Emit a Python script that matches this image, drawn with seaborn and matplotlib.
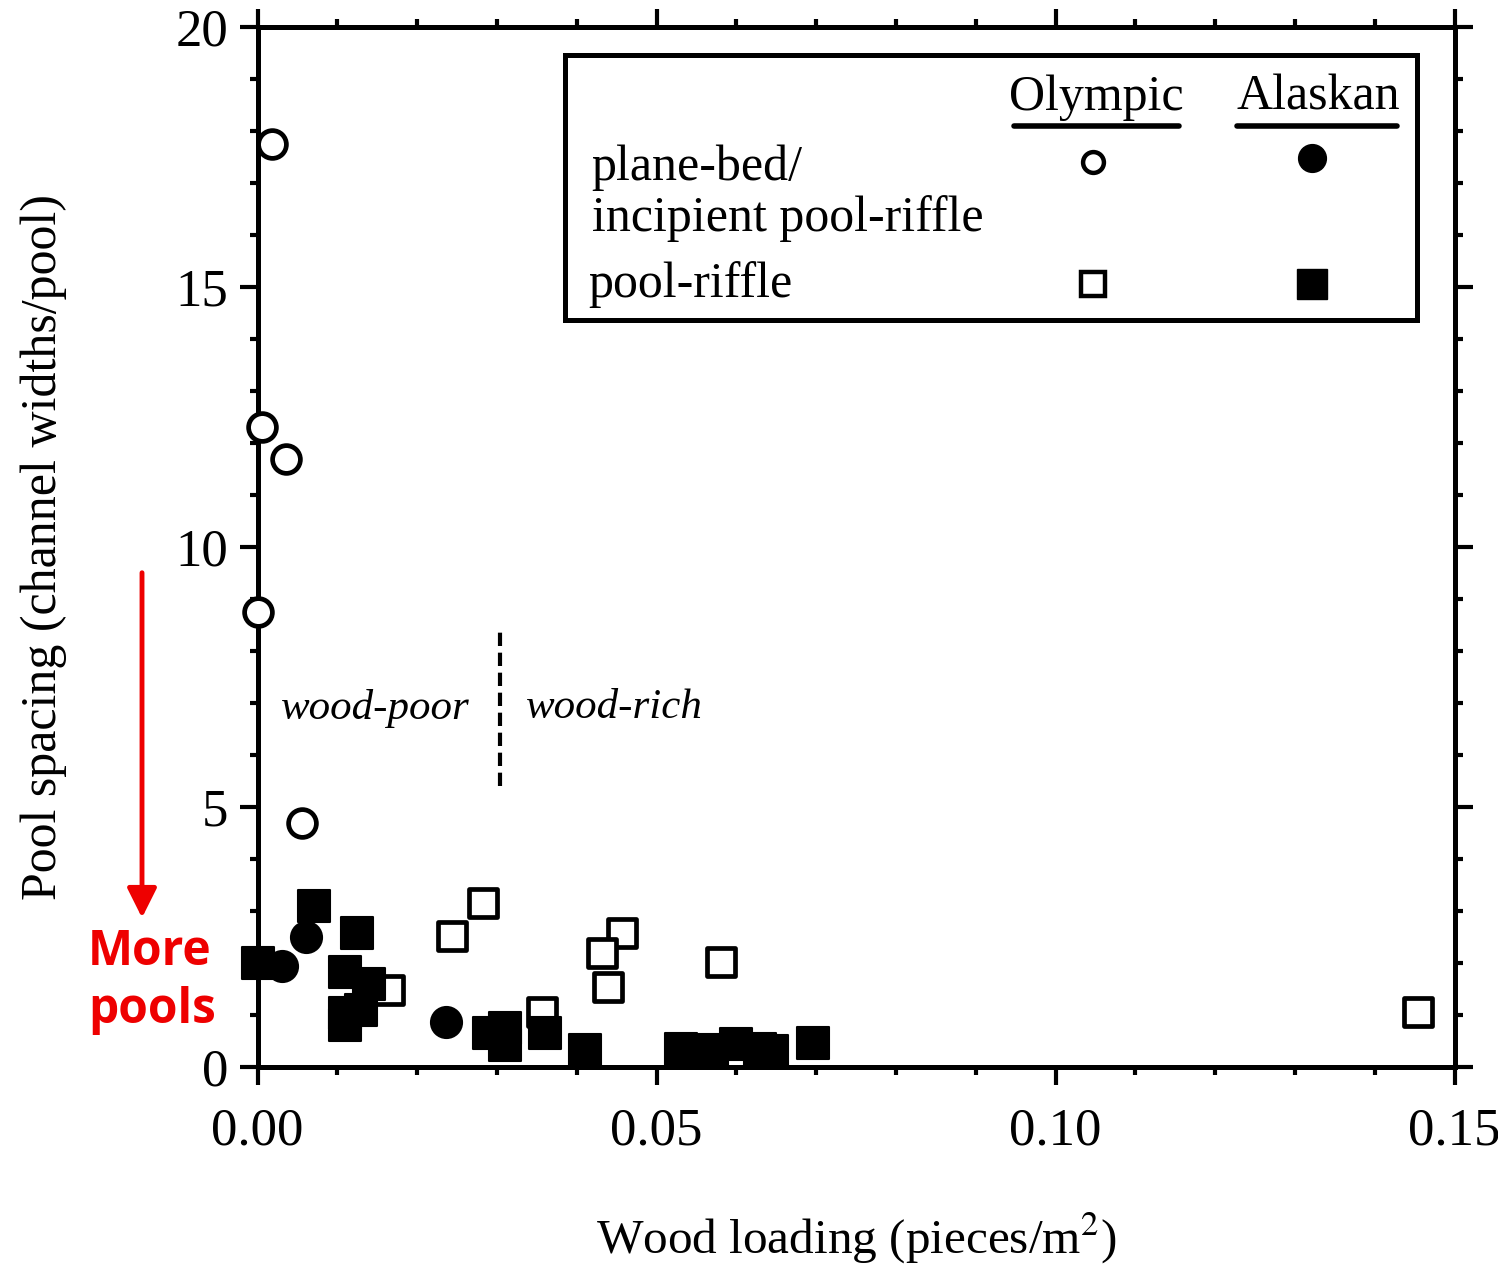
import matplotlib
matplotlib.use("Agg")
import matplotlib.pyplot as plt
import seaborn as sns
import pandas as pd
from matplotlib.ticker import MultipleLocator, FixedLocator
from matplotlib.lines import Line2D
from matplotlib.patches import Rectangle, FancyArrowPatch

# ---------------- data ----------------
olympic_planebed_x = [0.0018, 0.0006, 0.0035, 0.0001, 0.0055]
olympic_planebed_y = [17.75, 12.3, 11.7, 8.75, 4.7]

alaskan_planebed_x = [0.0060, 0.0030, 0.0236]
alaskan_planebed_y = [2.50, 1.95, 0.87]

olympic_poolriffle_x = [0.0282, 0.0244, 0.0165, 0.0356, 0.0456, 0.0432, 0.0439, 0.0581, 0.1454]
olympic_poolriffle_y = [3.15, 2.52, 1.48, 1.06, 2.58, 2.19, 1.54, 2.02, 1.06]

alaskan_poolriffle_x = [0.0000, 0.0070, 0.0125, 0.0110, 0.0140, 0.0110, 0.0110, 0.0130,
                        0.0290, 0.0310, 0.0310, 0.0360, 0.0410,
                        0.0530, 0.0570, 0.0600, 0.0630, 0.0645, 0.0696]
alaskan_poolriffle_y = [2.00, 3.10, 2.58, 1.83, 1.60, 1.04, 0.80, 1.10,
                        0.65, 0.75, 0.42, 0.65, 0.33,
                        0.35, 0.33, 0.45, 0.35, 0.30, 0.46]

x_ticks = [0.00, 0.05, 0.10, 0.15]
x_tick_labels = ["0.00", "0.05", "0.10", "0.15"]
y_ticks = [0, 5, 10, 15, 20]
y_tick_labels = ["0", "5", "10", "15", "20"]

boundary_x = 0.0304
boundary_y = [5.4, 8.4]

# ---------------- style ----------------
sns.set_style("ticks")
plt.rcParams["font.family"] = ["Liberation Serif", "DejaVu Serif"]
plt.rcParams["mathtext.fontset"] = "stix"
plt.rcParams["text.color"] = "black"
plt.rcParams["axes.labelcolor"] = "black"
plt.rcParams["axes.edgecolor"] = "black"
plt.rcParams["xtick.color"] = "black"
plt.rcParams["ytick.color"] = "black"

fig = plt.figure(figsize=(14.98, 12.68), dpi=100)
ax = fig.add_axes([0.172, 0.1585, 0.799, 0.8202])

def df(x, y):
    return pd.DataFrame({"x": x, "y": y})

lw_edge = 3.4
sns.scatterplot(data=df(olympic_planebed_x, olympic_planebed_y), x="x", y="y", ax=ax,
                marker="o", s=400, facecolor="white", edgecolor="black",
                linewidth=lw_edge, zorder=3, clip_on=False)
sns.scatterplot(data=df(olympic_poolriffle_x, olympic_poolriffle_y), x="x", y="y", ax=ax,
                marker="s", s=390, facecolor="white", edgecolor="black",
                linewidth=lw_edge, zorder=3, clip_on=False)
sns.scatterplot(data=df(alaskan_planebed_x, alaskan_planebed_y), x="x", y="y", ax=ax,
                marker="o", s=500, facecolor="black", edgecolor="black",
                linewidth=1.5, zorder=4, clip_on=False)
sns.scatterplot(data=df(alaskan_poolriffle_x, alaskan_poolriffle_y), x="x", y="y", ax=ax,
                marker="s", s=540, facecolor="black", edgecolor="black",
                linewidth=1.5, zorder=4, clip_on=False)

ax.set_xlim(0, 0.15)
ax.set_ylim(0, 20)
ax.xaxis.set_major_locator(FixedLocator(x_ticks))
ax.set_xticklabels(x_tick_labels)
ax.xaxis.set_minor_locator(MultipleLocator(0.01))
ax.yaxis.set_major_locator(FixedLocator(y_ticks))
ax.set_yticklabels(y_tick_labels)
ax.yaxis.set_minor_locator(MultipleLocator(1))

for sp in ax.spines.values():
    sp.set_linewidth(3.6)
    sp.set_visible(True)
ax.tick_params(which="both", direction="out", top=True, right=True, width=3)
ax.tick_params(which="major", length=13, labelsize=38)
ax.tick_params(axis="x", which="major", pad=16)
ax.tick_params(axis="y", which="major", pad=8)
ax.tick_params(which="minor", length=6)

ax.set_xlabel("Wood loading (pieces/m$^{2}$)", fontsize=35.5, labelpad=40)
ax.set_ylabel("Pool spacing (channel widths/pool)", fontsize=36, labelpad=78)

# wood-poor / wood-rich divider
ax.plot([boundary_x, boundary_x], boundary_y, color="black", lw=3,
        linestyle=(0, (3.2, 1.6)), zorder=2)
ax.text(boundary_x - 0.0038, 6.9, "wood-poor", style="italic", fontsize=31,
        ha="right", va="center")
ax.text(boundary_x + 0.0032, 6.9, "wood-rich", style="italic", fontsize=31,
        ha="left", va="center")

# ---------------- legend (table style) ----------------
t = ax.transAxes
ax.add_patch(Rectangle((0.2565, 0.718), 0.7125, 0.255, transform=t, fill=True,
                       facecolor="white", edgecolor="black", lw=3.6, zorder=5))
fs_leg = 36
ax.text(0.701, 0.932, "Olympic", transform=t, fontsize=fs_leg, ha="center", va="center", zorder=6)
ax.text(0.886, 0.932, "Alaskan", transform=t, fontsize=fs_leg, ha="center", va="center", zorder=6)
ax.add_line(Line2D([0.632, 0.770], [0.905, 0.905], transform=t, color="black", lw=4, zorder=6))
ax.add_line(Line2D([0.818, 0.952], [0.905, 0.905], transform=t, color="black", lw=4, zorder=6))
ax.text(0.279, 0.865, "plane-bed/", transform=t, fontsize=fs_leg, ha="left", va="center", zorder=6)
ax.text(0.279, 0.816, "incipient pool-riffle", transform=t, fontsize=fs_leg, ha="left", va="center", zorder=6)
ax.text(0.276, 0.752, "pool-riffle", transform=t, fontsize=fs_leg, ha="left", va="center", zorder=6)
ax.add_line(Line2D([0.698], [0.870], transform=t, marker="o", markersize=15, mfc="white",
                   mec="black", mew=3.2, zorder=6))
ax.add_line(Line2D([0.881], [0.874], transform=t, marker="o", markersize=20, mfc="black",
                   mec="black", mew=1, zorder=6))
ax.add_line(Line2D([0.698], [0.753], transform=t, marker="s", markersize=17, mfc="white",
                   mec="black", mew=3.2, zorder=6))
ax.add_line(Line2D([0.881], [0.753], transform=t, marker="s", markersize=21, mfc="black",
                   mec="black", mew=1, zorder=6))

# ---------------- red annotation ----------------
arrow = FancyArrowPatch((0.0948, 0.5505), (0.0948, 0.274), transform=fig.transFigure,
                        arrowstyle="-|>,head_length=0.9,head_width=0.45", mutation_scale=20,
                        color="#ee0000", lw=3.5)
fig.patches.append(arrow)
fig.text(0.0587, 0.226, "More\npools", color="#ee0000", fontsize=34.5, fontweight="bold",
         family=["Open Sans", "DejaVu Sans"], ha="left", va="center", linespacing=1.25)

fig.savefig("out.png", dpi=100, facecolor="white")
